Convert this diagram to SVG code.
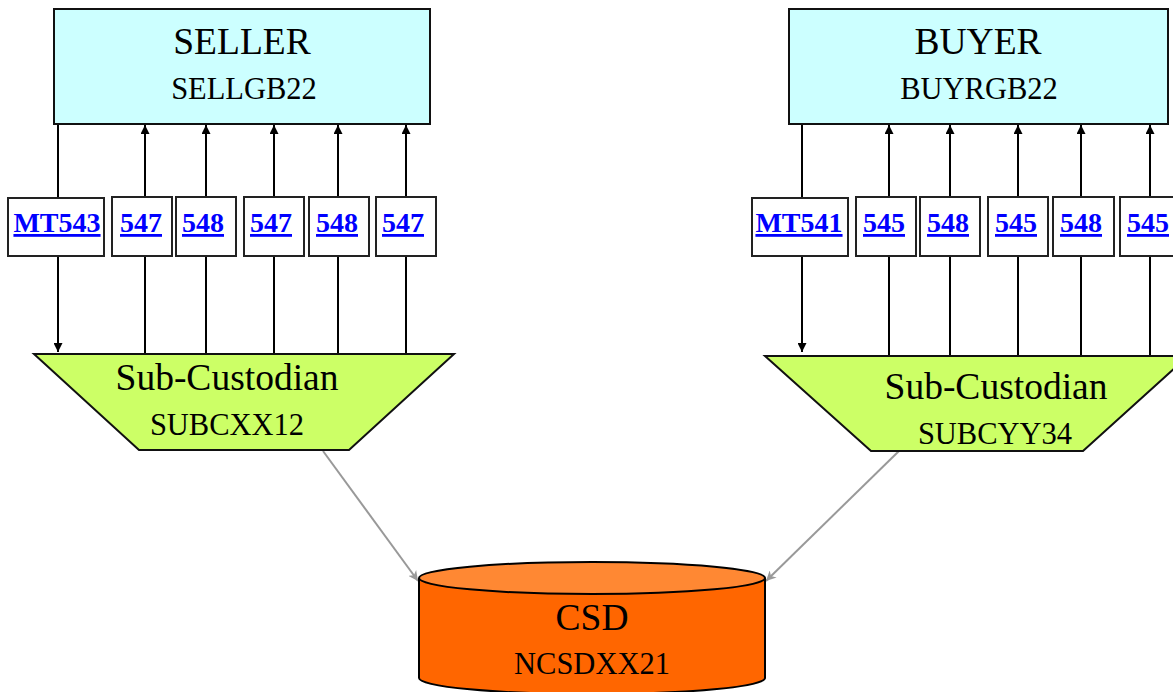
<svg xmlns="http://www.w3.org/2000/svg" width="1173" height="692" viewBox="0 0 1173 692">
<style>
text{font-family:"Liberation Serif","Times New Roman",serif;text-anchor:middle;fill:#000}
.big{font-size:37.5px}
.sub{font-size:30.5px}
.party{fill:#CCFFFF;stroke:#111;stroke-width:2}
.msg{fill:#fff;stroke:#222;stroke-width:2}
.mt{font-size:28px;font-weight:bold;fill:#0000FF;text-decoration:underline}
.trap{fill:#CCFF66;stroke:#111;stroke-width:2}
.c{stroke:#000;stroke-width:2;fill:none}
.g{stroke:#999;stroke-width:2;fill:none}
</style>
<defs>
<marker id="ah" markerUnits="userSpaceOnUse" markerWidth="9" markerHeight="9" refX="9" refY="4.5" orient="auto"><path d="M0,0 L9,4.5 L0,9 z" fill="#000"/></marker>
<marker id="ag" markerUnits="userSpaceOnUse" markerWidth="10" markerHeight="10" refX="10" refY="5" orient="auto"><path d="M0,0 L10,5 L0,10 L3,5 z" fill="#999"/></marker>
</defs>
<rect width="1173" height="692" fill="#fff"/>
<g id="connectors">
<line class="c" x1="58" y1="124" x2="58" y2="352" marker-end="url(#ah)"/>
<line class="c" x1="145" y1="354" x2="145" y2="125" marker-end="url(#ah)"/>
<line class="c" x1="206" y1="354" x2="206" y2="125" marker-end="url(#ah)"/>
<line class="c" x1="274" y1="354" x2="274" y2="125" marker-end="url(#ah)"/>
<line class="c" x1="338" y1="354" x2="338" y2="125" marker-end="url(#ah)"/>
<line class="c" x1="406" y1="354" x2="406" y2="125" marker-end="url(#ah)"/>
<line class="c" x1="802" y1="124" x2="802" y2="352" marker-end="url(#ah)"/>
<line class="c" x1="889" y1="356" x2="889" y2="125" marker-end="url(#ah)"/>
<line class="c" x1="950" y1="356" x2="950" y2="125" marker-end="url(#ah)"/>
<line class="c" x1="1018" y1="356" x2="1018" y2="125" marker-end="url(#ah)"/>
<line class="c" x1="1081" y1="356" x2="1081" y2="125" marker-end="url(#ah)"/>
<line class="c" x1="1150" y1="356" x2="1150" y2="125" marker-end="url(#ah)"/>
<line class="g" x1="323" y1="451" x2="418" y2="581" marker-end="url(#ag)"/>
<line class="g" x1="899" y1="451" x2="766" y2="581" marker-end="url(#ag)"/>
</g>
<g id="seller">
<rect class="party" x="54" y="9" width="376" height="115"/>
<text class="big" x="242" y="54">SELLER</text>
<text class="sub" x="244" y="99">SELLGB22</text>
</g>
<g id="buyer">
<rect class="party" x="789" y="9" width="379" height="115"/>
<text class="big" x="978" y="54">BUYER</text>
<text class="sub" x="979" y="99">BUYRGB22</text>
</g>
<g id="msg-s1"><rect class="msg" x="8" y="198" width="96" height="58"/><text class="mt" x="57" y="232">MT543</text></g>
<g id="msg-s2"><rect class="msg" x="112" y="197" width="60" height="59"/><text class="mt" x="141" y="232">547</text></g>
<g id="msg-s3"><rect class="msg" x="176" y="197" width="60" height="59"/><text class="mt" x="203" y="232">548</text></g>
<g id="msg-s4"><rect class="msg" x="244" y="197" width="60" height="59"/><text class="mt" x="271" y="232">547</text></g>
<g id="msg-s5"><rect class="msg" x="309" y="197" width="60" height="59"/><text class="mt" x="337" y="232">548</text></g>
<g id="msg-s6"><rect class="msg" x="376" y="197" width="60" height="59"/><text class="mt" x="403" y="232">547</text></g>
<g id="msg-b1"><rect class="msg" x="752" y="198" width="96" height="58"/><text class="mt" x="799" y="232">MT541</text></g>
<g id="msg-b2"><rect class="msg" x="856" y="197" width="60" height="59"/><text class="mt" x="884" y="232">545</text></g>
<g id="msg-b3"><rect class="msg" x="920" y="197" width="60" height="59"/><text class="mt" x="948" y="232">548</text></g>
<g id="msg-b4"><rect class="msg" x="988" y="197" width="60" height="59"/><text class="mt" x="1016" y="232">545</text></g>
<g id="msg-b5"><rect class="msg" x="1053" y="197" width="61" height="59"/><text class="mt" x="1081" y="232">548</text></g>
<g id="msg-b6"><rect class="msg" x="1120" y="197" width="61" height="59"/><text class="mt" x="1148" y="232">545</text></g>
<g id="subcust-seller">
<polygon class="trap" points="34,354 454,354 349,450 139,450"/>
<text class="big" x="227" y="390">Sub-Custodian</text>
<text class="sub" x="227" y="435">SUBCXX12</text>
</g>
<g id="subcust-buyer">
<polygon class="trap" points="765,356 1188,356 1083,451 871,451"/>
<text class="big" x="996" y="399">Sub-Custodian</text>
<text class="sub" x="995" y="444">SUBCYY34</text>
</g>
<g id="csd">
<path d="M419,578 L419,678 A173,16 0 0 0 765,678 L765,578" fill="#FF6600" stroke="#000" stroke-width="2"/>
<ellipse cx="592" cy="578" rx="173" ry="16" fill="#FF8833" stroke="#000" stroke-width="2"/>
<text class="big" x="592" y="630">CSD</text>
<text class="sub" x="592" y="674">NCSDXX21</text>
</g>
</svg>
